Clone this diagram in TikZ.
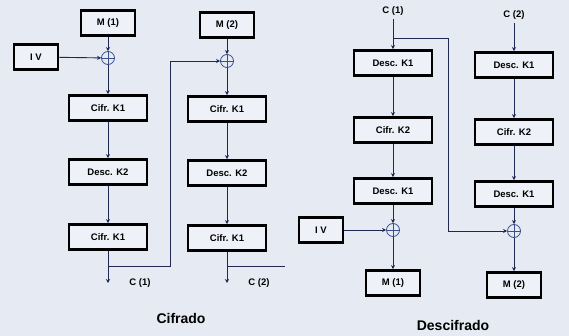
\documentclass[tikz,border=0pt]{standalone}
\usepackage{fontspec}
\setmainfont{Liberation Sans}
\usetikzlibrary{arrows.meta}
\definecolor{paper}{HTML}{E6EAF3}
\definecolor{boxfill}{HTML}{EEF1F7}
\definecolor{wire}{HTML}{1E2850}
\definecolor{xorblue}{HTML}{3A4E8C}
\begin{document}
\begin{tikzpicture}[x=1pt, y=-1pt,
  every node/.style={font=\bfseries\fontsize{9.5}{11}\selectfont},
  block/.style={draw=black, fill=boxfill, line width=2.8pt, minimum width=78pt, minimum height=25pt, inner sep=0pt},
  msg/.style={block, minimum width=54pt},
  ivbox/.style={block, minimum width=44pt},
  xor/.style={circle, draw=xorblue, line width=0.8pt, minimum size=13pt, inner sep=0pt,
    path picture={\draw[xorblue, line width=0.8pt] (path picture bounding box.north) -- (path picture bounding box.south)
      (path picture bounding box.west) -- (path picture bounding box.east);}},
  wire/.style={draw=wire, line width=0.9pt},
  flow/.style={wire, -{Stealth[length=4pt, width=4pt]}}]
  \fill[paper] (0,0) rectangle (569,336);
  \useasboundingbox (0,0) rectangle (569,336);

  % Cifrado
  \node[msg] (m1) at (108,23) {M (1)};
  \node[ivbox] (iv1) at (36,57) {I V};
  \node[xor] (x1) at (108,58) {};
  \node[block] (c1a) at (108,108) {Cifr. K1};
  \node[block] (d1) at (108,172) {Desc. K2};
  \node[block] (c1b) at (108,237) {Cifr. K1};
  \coordinate (o1) at (108,283);
  \coordinate (t1) at (170,266);
  \node (l1) at (140,283) {C (1)};

  \node[msg] (m2) at (227,25) {M (2)};
  \node[xor] (x2) at (227,61) {};
  \node[block] (c2a) at (227,109) {Cifr. K1};
  \node[block] (d2) at (227,173) {Desc. K2};
  \node[block] (c2b) at (227,238) {Cifr. K1};
  \coordinate (o2) at (227,283);
  \coordinate (t2) at (285,266);
  \node (l2) at (259,283) {C (2)};

  \draw[flow] (m1) -- (x1);
  \draw[flow] (iv1) -- (x1);
  \draw[flow] (x1) -- (c1a);
  \draw[flow] (c1a) -- (d1);
  \draw[flow] (d1) -- (c1b);
  \draw[flow] (c1b) -- (o1);
  \draw[flow] (c1b.south |- t1) -- (t1) |- (x2);
  \draw[flow] (m2) -- (x2);
  \draw[flow] (x2) -- (c2a);
  \draw[flow] (c2a) -- (d2);
  \draw[flow] (d2) -- (c2b);
  \draw[flow] (c2b) -- (o2);
  \draw[wire] (c2b.south |- t2) -- (t2);

  \node[font=\bfseries\fontsize{14}{16}\selectfont] (cif) at (181,318) {Cifrado};

  % Descifrado
  \node (k1) at (393,11) {C (1)};
  \node[block] (da1) at (393,63) {Desc. K1};
  \node[block] (ca) at (393,130) {Cifr. K2};
  \node[block] (da2) at (393,191) {Desc. K1};
  \node[xor] (xa) at (393,230) {};
  \node[ivbox] (iv2) at (321,230) {I V};
  \node[msg] (ma) at (393,283) {M (1)};
  \coordinate (ta) at (448,38);

  \node (k2) at (514,15) {C (2)};
  \node[block] (db1) at (514,65) {Desc. K1};
  \node[block] (cb) at (514,132) {Cifr. K2};
  \node[block] (db2) at (514,194) {Desc. K1};
  \node[xor] (xb) at (514,231) {};
  \node[msg] (mb) at (514,285) {M (2)};

  \draw[flow] (k1) -- (da1);
  \draw[flow] (da1) -- (ca);
  \draw[flow] (ca) -- (da2);
  \draw[flow] (da2) -- (xa);
  \draw[flow] (iv2) -- (xa);
  \draw[flow] (xa) -- (ma);
  \draw[flow] (k1.south |- ta) -- (ta) |- (xb);
  \draw[flow] (k2) -- (db1);
  \draw[flow] (db1) -- (cb);
  \draw[flow] (cb) -- (db2);
  \draw[flow] (db2) -- (xb);
  \draw[flow] (xb) -- (mb);

  \node[font=\bfseries\fontsize{14}{16}\selectfont] (desc) at (453,325) {Descifrado};
\end{tikzpicture}
\end{document}
